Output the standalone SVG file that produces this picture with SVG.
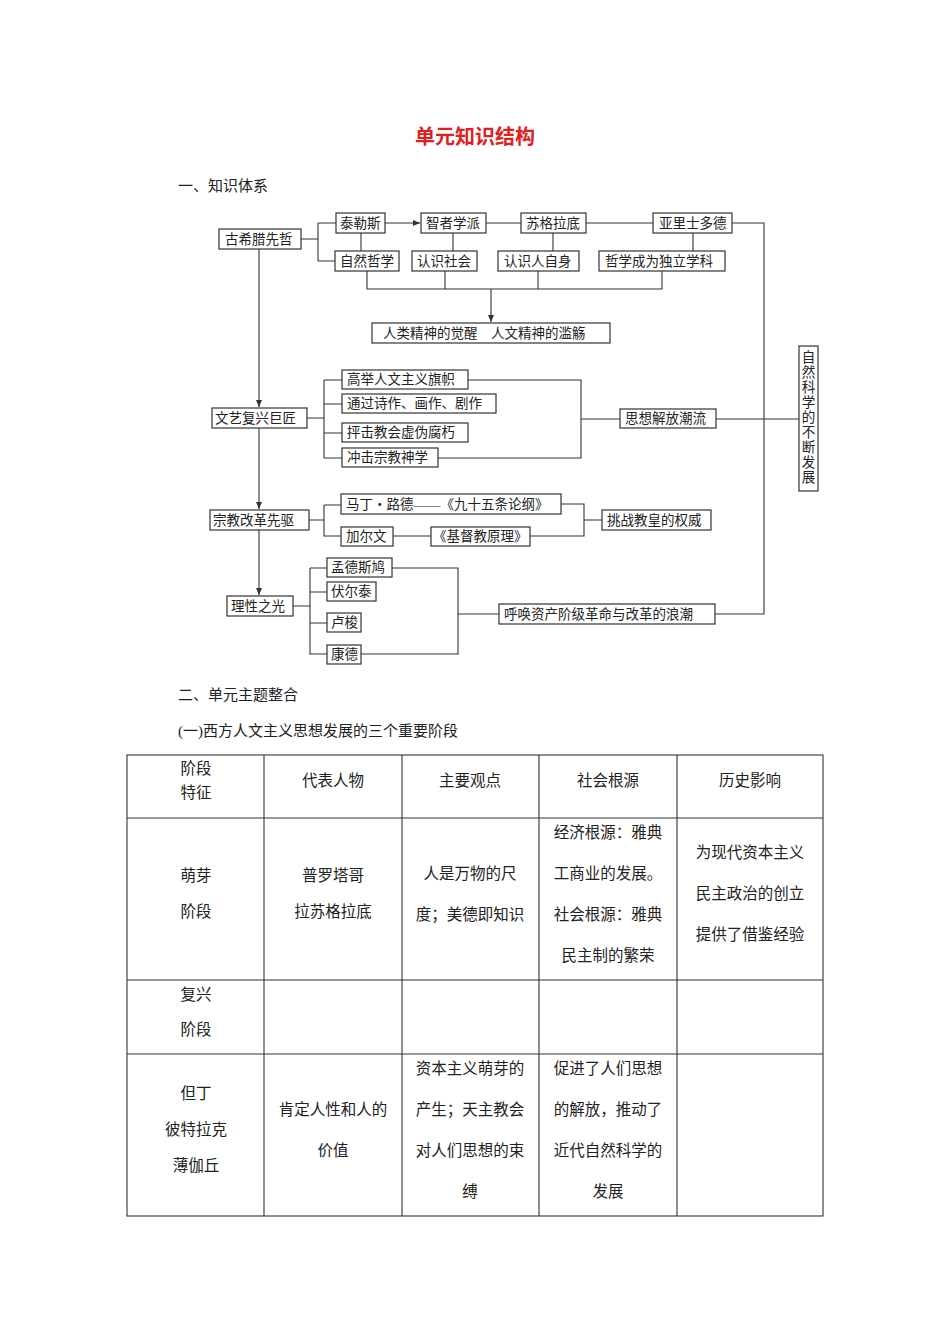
<svg xmlns="http://www.w3.org/2000/svg" width="950" height="1344" viewBox="0 0 950 1344">
<style>
text{font-family:"Liberation Serif","Noto Sans CJK SC",serif;fill:#222}
.n{font-size:13.5px}
.b{fill:#fff;stroke:#333;stroke-width:1.2}
.l{fill:none;stroke:#333;stroke-width:1.1}
.t{font-size:15.5px;text-anchor:middle}
.h{font-size:15px}
.g{fill:none;stroke:#333;stroke-width:1.1}
</style>
<defs><marker id="a" markerWidth="8" markerHeight="8" refX="7" refY="4" orient="auto" markerUnits="userSpaceOnUse"><path d="M0,1 L7,4 L0,7z" fill="#333"/></marker></defs>
<rect width="950" height="1344" fill="#fff"/>
<text x="475" y="144" text-anchor="middle" style="font-size:20px;font-weight:bold;fill:#e02020">单元知识结构</text>
<text class="h" x="178" y="191">一、知识体系</text>
<text class="h" x="178" y="700">二、单元主题整合</text>
<text class="h" x="178" y="736">(一)西方人文主义思想发展的三个重要阶段</text>
<g id="connectors" class="l">
<path d="M301 239H318M318 223V261M318 223H336M318 261H335"/>
<path d="M385 223H420" marker-end="url(#a)"/>
<path d="M486 223H521M586 223H653M732 223H764V614H715M716 419H799"/>
<path d="M361 232V251M453 232V251M553 232V251M693 232V251"/>
<path d="M367 271V289H662V271M445 271V289M538 271V289"/>
<path d="M491 289V322" marker-end="url(#a)"/>
<path d="M259 248V407" marker-end="url(#a)"/>
<path d="M259 428V509" marker-end="url(#a)"/>
<path d="M259 530V595" marker-end="url(#a)"/>
<path d="M307 418H324M324 380V458M324 380H342M324 404H342M324 433H342M324 458H342"/>
<path d="M468 380H581V458H438M581 419H620"/>
<path d="M309 520H324M324 505V536H341M324 505H341M393 536H431"/>
<path d="M561 504H584V536H530M584 520H602"/>
<path d="M293 606H310M310 568V654H327M310 568H327M310 592H327M310 623H327"/>
<path d="M392 568H458V654H361M458 614H499"/>
</g>
<g id="n1"><rect class="b" x="219" y="229" width="82" height="20"/><text class="n" x="225" y="244">古希腊先哲</text></g>
<g id="n2"><rect class="b" x="336" y="213" width="49" height="20"/><text class="n" x="340" y="228">泰勒斯</text></g>
<g id="n3"><rect class="b" x="421" y="213" width="65" height="20"/><text class="n" x="426" y="228">智者学派</text></g>
<g id="n4"><rect class="b" x="521" y="213" width="65" height="20"/><text class="n" x="526" y="228">苏格拉底</text></g>
<g id="n5"><rect class="b" x="653" y="213" width="79" height="20"/><text class="n" x="659" y="228">亚里士多德</text></g>
<g id="n6"><rect class="b" x="335" y="251" width="64" height="20"/><text class="n" x="340" y="266">自然哲学</text></g>
<g id="n7"><rect class="b" x="412" y="251" width="65" height="20"/><text class="n" x="417" y="266">认识社会</text></g>
<g id="n8"><rect class="b" x="498" y="251" width="81" height="20"/><text class="n" x="504" y="266">认识人自身</text></g>
<g id="n9"><rect class="b" x="599" y="251" width="126" height="20"/><text class="n" x="605" y="266">哲学成为独立学科</text></g>
<g id="n10"><rect class="b" x="372" y="323" width="238" height="20"/><text class="n" x="383" y="338" xml:space="preserve">人类精神的觉醒　人文精神的滥觞</text></g>
<g id="n11"><rect class="b" x="212" y="408" width="95" height="20"/><text class="n" x="215" y="423">文艺复兴巨匠</text></g>
<g id="n12"><rect class="b" x="342" y="370" width="126" height="19"/><text class="n" x="347" y="384">高举人文主义旗帜</text></g>
<g id="n13"><rect class="b" x="342" y="394" width="154" height="19"/><text class="n" x="347" y="408">通过诗作、画作、剧作</text></g>
<g id="n14"><rect class="b" x="342" y="423" width="126" height="19"/><text class="n" x="347" y="437">抨击教会虚伪腐朽</text></g>
<g id="n15"><rect class="b" x="342" y="448" width="96" height="19"/><text class="n" x="347" y="462">冲击宗教神学</text></g>
<g id="n16"><rect class="b" x="620" y="409" width="96" height="19"/><text class="n" x="625" y="423">思想解放潮流</text></g>
<g id="n17"><rect class="b" x="799" y="346" width="19" height="145"/><text class="n" x="808.5" y="361" text-anchor="middle" style="writing-mode:vertical-rl" transform="translate(0,0)"></text>
<text class="n" text-anchor="middle"><tspan x="808.5" y="362">自</tspan><tspan x="808.5" y="377">然</tspan><tspan x="808.5" y="392">科</tspan><tspan x="808.5" y="407">学</tspan><tspan x="808.5" y="422">的</tspan><tspan x="808.5" y="437">不</tspan><tspan x="808.5" y="452">断</tspan><tspan x="808.5" y="467">发</tspan><tspan x="808.5" y="482">展</tspan></text></g>
<g id="n18"><rect class="b" x="210" y="510" width="99" height="20"/><text class="n" x="213" y="525">宗教改革先驱</text></g>
<g id="n19"><rect class="b" x="341" y="494" width="220" height="20"/><text class="n" x="346" y="509">马丁・路德——《九十五条论纲》</text></g>
<g id="n20"><rect class="b" x="341" y="527" width="52" height="19"/><text class="n" x="346" y="541">加尔文</text></g>
<g id="n21"><rect class="b" x="431" y="527" width="99" height="19"/><text class="n" x="433" y="541">《基督教原理》</text></g>
<g id="n22"><rect class="b" x="602" y="510" width="109" height="20"/><text class="n" x="607" y="525">挑战教皇的权威</text></g>
<g id="n23"><rect class="b" x="227" y="596" width="66" height="20"/><text class="n" x="231" y="611">理性之光</text></g>
<g id="n24"><rect class="b" x="327" y="558" width="65" height="19"/><text class="n" x="331" y="572">孟德斯鸠</text></g>
<g id="n25"><rect class="b" x="327" y="582" width="49" height="19"/><text class="n" x="331" y="596">伏尔泰</text></g>
<g id="n26"><rect class="b" x="327" y="613" width="34" height="19"/><text class="n" x="331" y="627">卢梭</text></g>
<g id="n27"><rect class="b" x="327" y="645" width="34" height="19"/><text class="n" x="331" y="659">康德</text></g>
<g id="n28"><rect class="b" x="499" y="604" width="216" height="20"/><text class="n" x="504" y="619">呼唤资产阶级革命与改革的浪潮</text></g>
<g id="table">
<rect class="g" x="127" y="755" width="696" height="461"/>
<path class="g" d="M264 755V1216M402 755V1216M539 755V1216M677 755V1216M127 818H823M127 980H823M127 1054H823"/>
<text class="t" x="196" y="774">阶段</text><text class="t" x="196" y="798">特征</text>
<text class="t" x="333" y="786">代表人物</text><text class="t" x="470" y="786">主要观点</text>
<text class="t" x="608" y="786">社会根源</text><text class="t" x="750" y="786">历史影响</text>
<text class="t" x="196" y="881">萌芽</text><text class="t" x="196" y="917">阶段</text>
<text class="t" x="333" y="881">普罗塔哥</text><text class="t" x="333" y="917">拉苏格拉底</text>
<text class="t" x="470" y="879">人是万物的尺</text><text class="t" x="470" y="920">度；美德即知识</text>
<text class="t" x="608" y="838">经济根源：雅典</text><text class="t" x="608" y="879">工商业的发展。</text><text class="t" x="608" y="920">社会根源：雅典</text><text class="t" x="608" y="961">民主制的繁荣</text>
<text class="t" x="750" y="858">为现代资本主义</text><text class="t" x="750" y="899">民主政治的创立</text><text class="t" x="750" y="940">提供了借鉴经验</text>
<text class="t" x="196" y="1000">复兴</text><text class="t" x="196" y="1035">阶段</text>
<text class="t" x="196" y="1099">但丁</text><text class="t" x="196" y="1135">彼特拉克</text><text class="t" x="196" y="1171">薄伽丘</text>
<text class="t" x="333" y="1115">肯定人性和人的</text><text class="t" x="333" y="1156">价值</text>
<text class="t" x="470" y="1074">资本主义萌芽的</text><text class="t" x="470" y="1115">产生；天主教会</text><text class="t" x="470" y="1156">对人们思想的束</text><text class="t" x="470" y="1197">缚</text>
<text class="t" x="608" y="1074">促进了人们思想</text><text class="t" x="608" y="1115">的解放，推动了</text><text class="t" x="608" y="1156">近代自然科学的</text><text class="t" x="608" y="1197">发展</text>
</g>
</svg>
